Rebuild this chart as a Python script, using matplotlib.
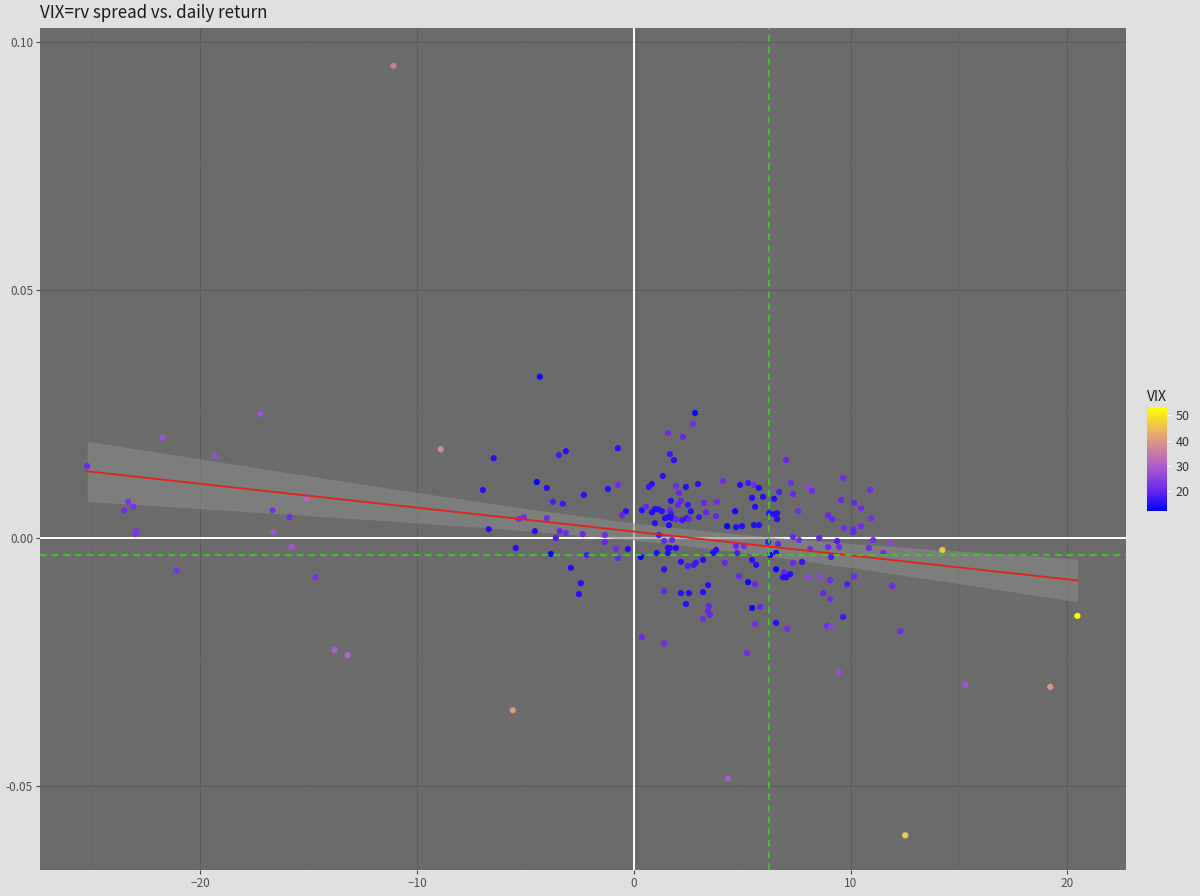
import numpy as np
import matplotlib
matplotlib.use("Agg")
import matplotlib.pyplot as plt
from matplotlib.colors import LinearSegmentedColormap, Normalize

plt.rcParams['font.family'] = ['Noto Sans CJK JP', 'DejaVu Sans']

# rv spread (x), daily return (y), VIX (colour)
spread = [
    -11.09, -4.34, -25.22, -21.76, -19.31, -17.23, -8.91, -15.10, -23.33, -23.51,
    -23.09, -22.96, -23.00, -16.67, -15.89, -16.63, -15.80, -21.11, -14.69, -13.81,
    -13.21, -5.59,
    -6.47, -3.46, -3.14, -4.48, -6.97, -4.02, -2.31, -3.74, -3.28, -5.31,
    -5.08, -4.02, -6.70, -4.57, -3.42, -3.14, -2.36, -3.60, -5.45, -3.83,
    -2.17, -2.91, -2.45, -2.54,
    2.82, 2.73, 1.57, 2.26, -0.74, 1.66, 1.85, 1.34, 0.83, 0.69,
    -1.20, -0.74, 1.94, 2.40, 2.96, 4.11, 4.90, 5.27, 5.54, 5.77,
    2.08, 1.71, 2.17, 2.03, 2.49, 3.23, 3.83, 5.45, 5.59, -0.37,
    -0.55, 0.37, 0.55, 0.83, 0.97, 1.11, 1.29, 1.66, 1.71, 2.63,
    3.33, 3.79, 4.67, 1.43, 1.57, 1.76, 0.97, 1.62, 1.94, 2.22,
    2.45, 2.54, 3.00, 4.30, 4.71, 4.99, 5.54, 5.77,
    -1.34, -1.34, -0.83, -0.74, -0.28, 0.32, 1.15, 1.39, 1.57, 1.66,
    1.94, 1.06, 1.57, 1.76, 2.17, 2.49, 2.77, 2.86, 3.19, 3.65,
    3.79, 4.20, 4.76, 4.71, 5.08, 5.45, 5.64, 1.39, 4.85, 5.27,
    5.59, 3.42, 3.19, 2.17, 2.54, 1.39, 2.40, 3.46, 3.42, 3.51,
    3.19, 5.45, 5.59, 0.37, 1.39, 5.22, 5.82,
    7.02, 9.65, 7.25, 8.04, 8.22, 6.70, 7.34, 10.90, 5.96, 6.47,
    9.56, 10.16, 10.48, 7.58, 6.24, 6.47, 6.61, 6.61, 8.96, 9.15,
    10.95, 9.70, 10.48, 10.12,
    6.19, 6.65, 7.34, 7.62, 8.55, 8.13, 8.96, 9.38, 9.47, 9.10,
    10.12, 11.04, 10.85, 11.82, 11.50, 6.28, 6.56, 7.34, 7.76, 6.56,
    6.93, 7.21, 6.88, 7.02, 8.04, 8.59, 9.05, 10.16, 9.84, 11.92,
    8.73, 9.05, 9.65, 6.56, 7.07, 8.91, 9.10, 12.29,
    14.23, 15.29, 19.21, 20.46, 12.52, 9.47, 4.34,
]
ret = [
    0.0952, 0.0325, 0.0145, 0.0202, 0.0165, 0.0250, 0.0179, 0.0079, 0.0073, 0.0056,
    0.0063, 0.0014, 0.0008, 0.0056, 0.0042, 0.0012, -0.0018, -0.0065, -0.0079, -0.0226,
    -0.0236, -0.0347,
    0.0161, 0.0167, 0.0175, 0.0113, 0.0097, 0.0101, 0.0087, 0.0073, 0.0069, 0.0038,
    0.0042, 0.0040, 0.0018, 0.0014, 0.0014, 0.0010, 0.0008, 0.0000, -0.0020, -0.0032,
    -0.0034, -0.0060, -0.0091, -0.0113,
    0.0252, 0.0230, 0.0212, 0.0204, 0.0181, 0.0169, 0.0157, 0.0125, 0.0109, 0.0103,
    0.0099, 0.0107, 0.0105, 0.0103, 0.0109, 0.0115, 0.0107, 0.0111, 0.0107, 0.0101,
    0.0091, 0.0075, 0.0075, 0.0067, 0.0067, 0.0071, 0.0073, 0.0081, 0.0063, 0.0054,
    0.0046, 0.0056, 0.0063, 0.0052, 0.0058, 0.0058, 0.0054, 0.0056, 0.0048, 0.0054,
    0.0052, 0.0044, 0.0054, 0.0040, 0.0042, 0.0040, 0.0030, 0.0026, 0.0038, 0.0036,
    0.0040, 0.0038, 0.0042, 0.0024, 0.0022, 0.0024, 0.0026, 0.0026,
    0.0006, -0.0008, -0.0022, -0.0040, -0.0022, -0.0038, 0.0006, -0.0006, -0.0020, -0.0020,
    -0.0020, -0.0030, -0.0030, -0.0004, -0.0048, -0.0056, -0.0054, -0.0050, -0.0044, -0.0030,
    -0.0024, -0.0050, -0.0030, -0.0016, -0.0016, -0.0044, -0.0054, -0.0063, -0.0077, -0.0089,
    -0.0093, -0.0095, -0.0109, -0.0111, -0.0111, -0.0107, -0.0133, -0.0137, -0.0147, -0.0155,
    -0.0163, -0.0141, -0.0173, -0.0200, -0.0212, -0.0232, -0.0139,
    0.0157, 0.0121, 0.0111, 0.0103, 0.0095, 0.0093, 0.0089, 0.0097, 0.0083, 0.0079,
    0.0077, 0.0071, 0.0060, 0.0054, 0.0050, 0.0048, 0.0050, 0.0038, 0.0046, 0.0038,
    0.0040, 0.0020, 0.0024, 0.0018,
    -0.0008, -0.0012, 0.0002, -0.0004, 0.0000, -0.0022, -0.0018, -0.0006, -0.0018, -0.0038,
    0.0012, -0.0004, -0.0020, -0.0010, -0.0030, -0.0034, -0.0030, -0.0050, -0.0048, -0.0063,
    -0.0069, -0.0073, -0.0079, -0.0079, -0.0079, -0.0077, -0.0085, -0.0077, -0.0093, -0.0097,
    -0.0111, -0.0123, -0.0159, -0.0171, -0.0183, -0.0177, -0.0179, -0.0188,
    -0.0024, -0.0296, -0.0300, -0.0157, -0.0599, -0.0270, -0.0484,
]
vix = [
    35, 14, 20, 28, 27, 28, 38, 31, 22, 21,
    22, 23, 23, 22, 21, 28, 28, 22, 22, 30,
    31, 40,
    15, 17, 15, 13, 15, 15, 15, 18, 17, 21,
    21, 21, 15, 15, 20, 21, 20, 18, 15, 13,
    18, 15, 15, 15,
    13, 21, 21, 20, 15, 17, 15, 15, 15, 16,
    15, 21, 21, 15, 15, 21, 15, 17, 21, 15,
    20, 15, 20, 20, 17, 20, 21, 15, 15, 15,
    20, 15, 20, 15, 15, 15, 15, 20, 17, 15,
    20, 20, 13, 15, 15, 15, 15, 15, 20, 17,
    15, 20, 17, 13, 15, 15, 15, 15,
    21, 20, 21, 20, 15, 12, 17, 20, 15, 15,
    15, 15, 15, 20, 15, 18, 17, 17, 15, 15,
    15, 20, 18, 20, 21, 15, 15, 15, 20, 13,
    20, 15, 15, 15, 15, 20, 15, 20, 20, 20,
    21, 13, 21, 20, 21, 21, 20,
    20, 21, 21, 25, 21, 18, 20, 21, 15, 15,
    20, 20, 21, 21, 15, 15, 15, 15, 20, 20,
    21, 21, 21, 21,
    17, 20, 20, 21, 20, 21, 21, 18, 21, 18,
    20, 21, 21, 25, 21, 13, 15, 20, 16, 13,
    20, 15, 15, 15, 25, 25, 21, 21, 18, 21,
    20, 21, 17, 15, 21, 21, 25, 21,
    46, 28, 40, 53, 47, 27, 30,
]

# latest observation (green dashed cross)
latest_spread = 6.24
latest_ret = -0.0034

x = np.array(spread)
y = np.array(ret)
v = np.array(vix)

cmap = LinearSegmentedColormap.from_list(
    "vix", [(0.0, "#0000FF"), (0.2, "#6A28EC"), (0.45, "#B060C8"),
            (0.7, "#E19A80"), (1.0, "#FFFF00")])
norm = Normalize(vmin=v.min(), vmax=v.max())

fig = plt.figure(figsize=(12, 8.96), dpi=100, facecolor="#E0E0E0")
ax = fig.add_axes([0.0333, 0.029, 0.905, 0.9398])
ax.set_facecolor("#6B6B6B")

ax.set_xlim(-27.4, 22.7)
ax.set_ylim(-0.0669, 0.1028)
ax.set_xticks([-20, -10, 0, 10, 20])
ax.set_xticks([-25, -15, -5, 5, 15], minor=True)
ax.set_yticks([-0.05, 0.0, 0.05, 0.10])
ax.set_yticks([-0.025, 0.025, 0.075], minor=True)
ax.set_yticklabels(["-0.05", "0.00", "0.05", "0.10"])
ax.grid(True, which="major", color="#5C5C5C", linewidth=0.7)
ax.grid(True, which="minor", color="#646464", linewidth=0.5)
ax.set_axisbelow(True)
for s in ax.spines.values():
    s.set_visible(False)
ax.tick_params(which="major", length=3, color="#444444", labelsize=8.5,
               labelcolor="#4D4D4D", pad=2)
ax.tick_params(which="minor", length=0)

ax.axhline(0, color="white", linewidth=1.4, zorder=1)
ax.axvline(0, color="white", linewidth=1.4, zorder=1)

# linear fit with 95% band
n = len(x)
b1, b0 = np.polyfit(x, y, 1)
xs = np.linspace(x.min(), x.max(), 80)
resid = y - (b0 + b1 * x)
s_err = np.sqrt(np.sum(resid ** 2) / (n - 2))
sxx = np.sum((x - x.mean()) ** 2)
se = s_err * np.sqrt(1.0 / n + (xs - x.mean()) ** 2 / sxx)
fit = b0 + b1 * xs
ax.fill_between(xs, fit - 1.97 * se, fit + 1.97 * se, color="#8A8A8A",
                alpha=0.6, linewidth=0, zorder=2)

sc = ax.scatter(x, y, c=v, cmap=cmap, norm=norm, s=20, linewidths=0, zorder=3)
ax.plot(xs, fit, color="#E0221E", linewidth=1.3, zorder=4)

ax.axvline(latest_spread, color="#3CD020", linewidth=1.2, linestyle=(0, (4, 3)), zorder=5)
ax.axhline(latest_ret, color="#3CD020", linewidth=1.2, linestyle=(0, (4, 3)), zorder=5)

fig.text(0.0333, 0.976, "VIX=rv spread vs. daily return", fontsize=12.2,
         color="#1A1A1A", va="bottom", ha="left")

cax = fig.add_axes([0.9558, 0.4297, 0.0167, 0.115])
cb = fig.colorbar(sc, cax=cax, ticks=[20, 30, 40, 50])
cb.outline.set_visible(False)
cb.ax.tick_params(length=3, color="white", labelsize=9, labelcolor="#333333", pad=3)
cax.set_title("VIX", fontsize=10, loc="left", color="#1A1A1A", pad=5)

fig.savefig("out.png", dpi=100, facecolor=fig.get_facecolor())
